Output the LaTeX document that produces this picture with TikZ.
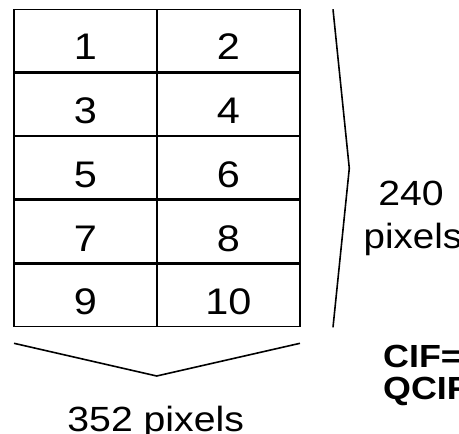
\documentclass[tikz,border=0pt]{standalone}
\usepackage{graphicx}
\usepackage{fontspec}
\setmainfont{Liberation Sans}
\newcommand\widetext[2][1.12]{\scalebox{#1}[1]{#2}}
\begin{document}
\begin{tikzpicture}[x=1pt,y=-1pt,
  cell/.style={draw, line width=1.4pt, minimum width=143pt, minimum height=62.2pt,
    inner sep=0pt, text height=39pt, text depth=0pt, font=\fontsize{37}{40}\selectfont},
  lbl/.style={inner sep=0pt, font=\fontsize{35}{40}\selectfont},
  boldlbl/.style={inner sep=0pt, font=\fontsize{32}{36}\selectfont\bfseries},
  brace/.style={line width=1.6pt}]
  \useasboundingbox (0,0) rectangle (459,434);
  \clip (0,0) rectangle (459,434);

  % ten cells, two per row, rows stacked with a hairline gap
  \foreach \r in {0,...,4}{
    \pgfmathsetmacro\yc{9.3+31.1+63.7*\r}
    \pgfmathtruncatemacro\a{2*\r+1}
    \pgfmathtruncatemacro\b{2*\r+2}
    \node[cell] (c\a) at (85.5,\yc) {\widetext{\a}};
    \node[cell] (c\b) at (228.5,\yc) {\widetext{\b}};
  }

  % height bracket
  \coordinate (rt) at (333,9.3);
  \coordinate (rm) at (349.3,168.3);
  \coordinate (rb) at (333,327.3);
  \draw[brace] (rt) -- (rm) -- (rb);

  % width bracket
  \coordinate (bl) at (14,343.3);
  \coordinate (bm) at (156.7,376);
  \coordinate (br) at (300,343.3);
  \draw[brace] (bl) -- (bm) -- (br);

  \node[lbl, anchor=base] (hnum) at (411,205) {\widetext{240}};
  \node[lbl, anchor=base west] (hunit) at (363.5,248) {\widetext[1.1]{pixels}};
  \node[lbl, anchor=base] (wlab) at (155.7,431.5) {\widetext{352 pixels}};

  \node[boldlbl, anchor=base west] (cif) at (383,367) {\widetext{CIF=}};
  \node[boldlbl, anchor=base west] (qcif) at (383,399.5) {\widetext{QCIF}};
\end{tikzpicture}
\end{document}
